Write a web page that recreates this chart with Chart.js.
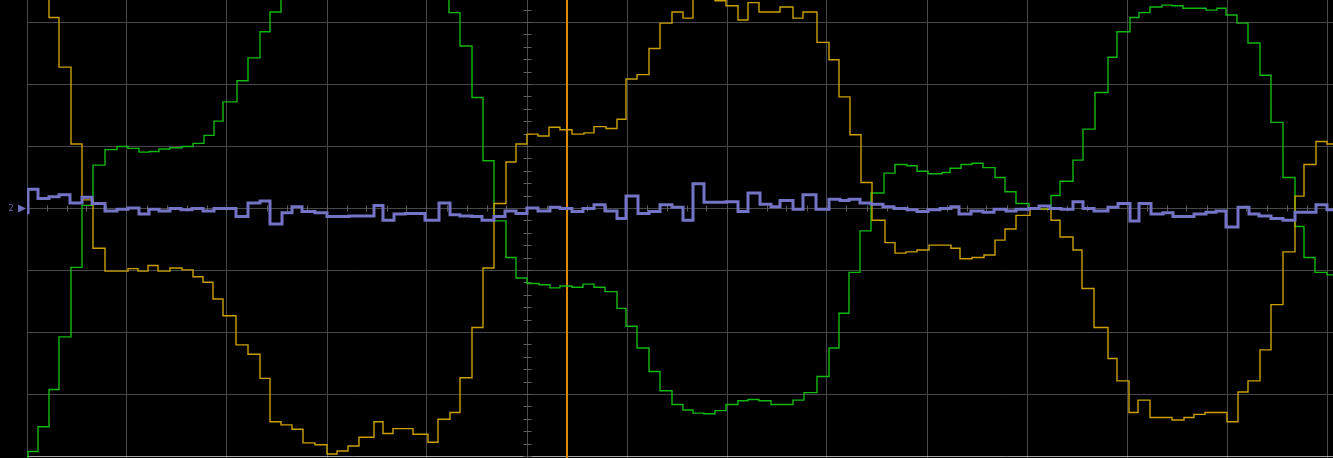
<!DOCTYPE html>
<html lang="en">
<head>
<meta charset="utf-8">
<title>Scope capture</title>
<script src="https://cdn.jsdelivr.net/npm/chart.js@4.4.1/dist/chart.umd.min.js"></script>
<style>
  html, body { margin: 0; padding: 0; background: #000; overflow: hidden; }
  #scope { display: block; }
</style>
</head>
<body>
<canvas id="scope" width="1333" height="458"></canvas>
<script>
// Traces: [time (div), level (div)] - each point holds until the next one
const ch1Trace = [
  [-5.00, 3.6], [-4.78, 3.08], [-4.68, 2.28], [-4.56, 1.04], [-4.45, 0.14], [-4.34, -0.64],
  [-4.22, -1.01], [-3.99, -0.97], [-3.89, -1.01], [-3.79, -0.92], [-3.69, -1.01], [-3.57, -0.96],
  [-3.45, -0.99], [-3.34, -1.10], [-3.24, -1.19], [-3.14, -1.46], [-3.04, -1.73], [-2.91, -2.20],
  [-2.79, -2.35], [-2.67, -2.74], [-2.57, -3.44], [-2.46, -3.49], [-2.35, -3.56], [-2.24, -3.78],
  [-2.12, -3.81], [-2.00, -3.96], [-1.90, -3.91], [-1.79, -3.83], [-1.68, -3.69], [-1.53, -3.44],
  [-1.44, -3.63], [-1.34, -3.55], [-1.14, -3.64], [-0.99, -3.77], [-0.89, -3.40], [-0.77, -3.29],
  [-0.67, -2.73], [-0.55, -1.92], [-0.44, -0.96], [-0.33, 0.08], [-0.21, 0.75], [-0.11, 1.04],
  [0.00, 1.20], [0.11, 1.17], [0.22, 1.31], [0.33, 1.27], [0.45, 1.20], [0.57, 1.22],
  [0.67, 1.32], [0.79, 1.29], [0.90, 1.44], [0.99, 2.09], [1.10, 2.16], [1.22, 2.58],
  [1.33, 2.99], [1.45, 3.17], [1.56, 3.07], [1.66, 3.6], [1.88, 3.35], [1.99, 3.27],
  [2.11, 3.04], [2.21, 3.32], [2.32, 3.17], [2.53, 3.25], [2.66, 3.07], [2.76, 3.17],
  [2.90, 2.68], [3.02, 2.40], [3.12, 1.80], [3.23, 1.19], [3.34, 0.42], [3.45, -0.19],
  [3.58, -0.55], [3.68, -0.72], [3.79, -0.70], [3.90, -0.67], [4.02, -0.59], [4.24, -0.64],
  [4.33, -0.81], [4.45, -0.79], [4.57, -0.75], [4.68, -0.51], [4.78, -0.33], [4.89, -0.11],
  [5.03, -0.01], [5.24, -0.19], [5.33, -0.46], [5.46, -0.67], [5.55, -1.29], [5.67, -1.92],
  [5.81, -2.42], [5.90, -2.78], [6.02, -3.29], [6.11, -3.09], [6.23, -3.37], [6.45, -3.41],
  [6.57, -3.37], [6.67, -3.32], [6.78, -3.29], [7.00, -3.44], [7.11, -2.96], [7.21, -2.78],
  [7.33, -2.28], [7.44, -1.55], [7.56, -0.70], [7.68, 0.20], [7.77, 0.71], [7.89, 1.08],
  [8.00, 1.04], [8.10, 1.04]
];

const ch2Trace = [
  [-5.00, -4.3], [-4.99, -3.92], [-4.89, -3.52], [-4.78, -2.92], [-4.68, -2.07], [-4.56, -0.95],
  [-4.45, 0.05], [-4.34, 0.70], [-4.22, 0.95], [-4.10, 1.00], [-3.99, 0.97], [-3.88, 0.91],
  [-3.78, 0.92], [-3.68, 0.96], [-3.57, 0.98], [-3.45, 1.00], [-3.34, 1.05], [-3.23, 1.18],
  [-3.13, 1.41], [-3.04, 1.72], [-2.90, 2.06], [-2.79, 2.43], [-2.67, 2.85], [-2.57, 3.17],
  [-2.46, 3.6], [-0.78, 3.16], [-0.67, 2.62], [-0.55, 1.79], [-0.44, 0.77], [-0.33, -0.20],
  [-0.21, -0.79], [-0.11, -1.12], [0.00, -1.21], [0.12, -1.23], [0.23, -1.28], [0.33, -1.25],
  [0.45, -1.27], [0.56, -1.22], [0.67, -1.27], [0.78, -1.34], [0.90, -1.61], [0.99, -1.90],
  [1.10, -2.25], [1.22, -2.63], [1.33, -2.94], [1.45, -3.16], [1.56, -3.25], [1.66, -3.30],
  [1.77, -3.31], [1.88, -3.26], [1.99, -3.16], [2.11, -3.10], [2.21, -3.08], [2.32, -3.10],
  [2.44, -3.16], [2.66, -3.09], [2.77, -2.97], [2.90, -2.71], [3.02, -2.25], [3.12, -1.69],
  [3.22, -1.03], [3.33, -0.36], [3.44, 0.25], [3.57, 0.57], [3.68, 0.71], [3.80, 0.69],
  [3.90, 0.60], [4.01, 0.56], [4.15, 0.58], [4.23, 0.65], [4.34, 0.71], [4.45, 0.73],
  [4.56, 0.66], [4.68, 0.50], [4.78, 0.27], [4.89, 0.08], [5.02, -0.01], [5.24, 0.21],
  [5.33, 0.44], [5.46, 0.78], [5.56, 1.28], [5.68, 1.87], [5.81, 2.44], [5.90, 2.85],
  [6.03, 3.08], [6.12, 3.16], [6.23, 3.25], [6.35, 3.28], [6.45, 3.27], [6.56, 3.23],
  [6.79, 3.20], [6.90, 3.23], [6.99, 3.12], [7.10, 2.99], [7.21, 2.67], [7.33, 2.15],
  [7.44, 1.39], [7.56, 0.50], [7.68, -0.29], [7.77, -0.79], [7.88, -1.03], [8.00, -1.07],
  [8.10, -1.07]
];

const mathTrace = [
  [-5.00, -0.07], [-4.99, 0.31], [-4.89, 0.16], [-4.78, 0.19], [-4.68, 0.22], [-4.57, 0.09],
  [-4.45, 0.18], [-4.35, 0.08], [-4.22, -0.04], [-4.10, -0.01], [-3.99, 0.01], [-3.88, -0.09],
  [-3.78, -0.01], [-3.68, -0.04], [-3.57, 0.00], [-3.46, -0.02], [-3.35, 0.00], [-3.24, -0.04],
  [-3.13, 0.00], [-2.91, -0.13], [-2.79, 0.09], [-2.67, 0.12], [-2.57, -0.25], [-2.45, -0.07],
  [-2.35, 0.03], [-2.25, -0.05], [-2.12, -0.07], [-2.00, -0.13], [-1.78, -0.12], [-1.53, 0.05],
  [-1.44, -0.19], [-1.33, -0.09], [-1.22, -0.08], [-1.02, -0.19], [-0.88, 0.09], [-0.77, -0.10],
  [-0.67, -0.12], [-0.55, -0.13], [-0.45, -0.19], [-0.33, -0.13], [-0.22, -0.04], [-0.11, -0.08],
  [0.00, 0.01], [0.11, -0.04], [0.23, 0.02], [0.33, 0.00], [0.45, -0.05], [0.56, 0.00],
  [0.67, 0.06], [0.78, -0.04], [0.90, -0.16], [0.99, 0.20], [1.11, -0.08], [1.22, -0.05],
  [1.33, 0.06], [1.45, 0.02], [1.56, -0.19], [1.66, 0.40], [1.77, 0.10], [1.99, 0.11],
  [2.11, -0.05], [2.21, 0.25], [2.33, 0.07], [2.44, 0.03], [2.53, 0.13], [2.66, -0.01],
  [2.76, 0.22], [2.89, -0.01], [3.02, 0.15], [3.13, 0.13], [3.22, 0.15], [3.33, 0.09],
  [3.44, 0.07], [3.56, 0.03], [3.67, 0.00], [3.80, -0.02], [3.90, -0.05], [4.01, -0.02],
  [4.13, 0.00], [4.24, 0.03], [4.32, -0.09], [4.44, -0.04], [4.56, -0.06], [4.67, -0.01],
  [4.79, -0.04], [4.89, -0.01], [5.02, 0.00], [5.12, 0.04], [5.23, 0.00], [5.34, -0.01],
  [5.46, 0.11], [5.56, 0.00], [5.67, -0.04], [5.81, 0.02], [5.91, 0.08], [6.03, -0.20],
  [6.12, 0.08], [6.24, -0.09], [6.36, -0.07], [6.46, -0.13], [6.67, -0.09], [6.79, -0.06],
  [6.89, -0.04], [6.99, -0.30], [7.11, 0.02], [7.22, -0.09], [7.32, -0.12], [7.44, -0.16],
  [7.56, -0.19], [7.68, -0.06], [7.89, 0.06], [8.00, -0.02], [8.10, -0.02]
];

// Graticule divisions
const timeTicks = [-5, -4, -3, -2, -1, 0, 1, 2, 3, 4, 5, 6, 7, 8];
const levelTicks = [-4, -3, -2, -1, 0, 1, 2, 3];
const timeRange = [-5.0, 8.06];
const levelRange = [-4.024, 3.363];
const cursorTime = 0.40;
const refLabel = "2";

function toPoints(trace) {
  return trace.map(([t, v]) => ({ x: t, y: v }));
}

function alignPx(p) {
  return Math.round(p - 0.5) + 0.5;
}

// Center axis minor ticks, cursor line, reference marker
const graticulePlugin = {
  id: "graticule",
  beforeDatasetsDraw(chart) {
    const { ctx, chartArea, scales } = chart;
    const x0 = alignPx(scales.x.getPixelForValue(0));
    const y0 = alignPx(scales.y.getPixelForValue(0));

    ctx.save();
    ctx.strokeStyle = "#5e5e5e";
    ctx.lineWidth = 1;
    ctx.beginPath();
    for (let k = timeTicks[0] * 5; k <= timeRange[1] * 5; k++) {
      const px = alignPx(scales.x.getPixelForValue(k / 5));
      ctx.moveTo(px, y0 - 3);
      ctx.lineTo(px, y0 + 3);
    }
    for (let k = levelTicks[0] * 5; k <= levelRange[1] * 5; k++) {
      const py = alignPx(scales.y.getPixelForValue(k / 5));
      ctx.moveTo(x0 - 4, py);
      ctx.lineTo(x0 + 4, py);
    }
    ctx.stroke();

    // time cursor
    const cx = scales.x.getPixelForValue(cursorTime);
    ctx.strokeStyle = "#d98a0c";
    ctx.lineWidth = 2;
    ctx.beginPath();
    ctx.moveTo(cx, chartArea.top);
    ctx.lineTo(cx, chartArea.bottom);
    ctx.stroke();
    ctx.restore();
  },
  afterDatasetsDraw(chart) {
    const { ctx, chartArea, scales } = chart;
    const y0 = scales.y.getPixelForValue(0);
    const left = chartArea.left;

    ctx.save();
    ctx.fillStyle = "#7070c0";
    ctx.beginPath();
    ctx.moveTo(left - 9, y0 - 4);
    ctx.lineTo(left - 1, y0);
    ctx.lineTo(left - 9, y0 + 4);
    ctx.closePath();
    ctx.fill();

    ctx.fillStyle = "#6464a0";
    ctx.font = "9px 'DejaVu Sans Mono'";
    ctx.textAlign = "center";
    ctx.textBaseline = "middle";
    ctx.fillText(refLabel, left - 16, y0);
    ctx.restore();
  }
};

function gridColor(ctx) {
  if (ctx.tick && ctx.tick.value === levelTicks[0]) {
    return "#a8a8a8";
  }
  return "#484848";
}

function initializeScope() {
  const canvas = document.getElementById("scope");

  new Chart(canvas, {
    type: "line",
    data: {
      datasets: [
        {
          label: "Math",
          data: toPoints(mathTrace),
          borderColor: "#7474c6",
          borderWidth: 3,
          stepped: true,
          pointRadius: 0,
        },
        {
          label: "CH1",
          data: toPoints(ch1Trace),
          borderColor: "#c9a000",
          borderWidth: 1.4,
          stepped: true,
          pointRadius: 0,
        },
        {
          label: "CH2",
          data: toPoints(ch2Trace),
          borderColor: "#12b812",
          borderWidth: 1.4,
          stepped: true,
          pointRadius: 0,
        },
      ],
    },
    options: {
      responsive: false,
      animation: false,
      layout: {
        padding: { left: 27, right: 0, top: 0, bottom: 0 },
      },
      plugins: {
        legend: { display: false },
        tooltip: { enabled: false },
      },
      scales: {
        x: {
          type: "linear",
          min: timeRange[0],
          max: timeRange[1],
          afterBuildTicks: (scale) => {
            scale.ticks = timeTicks.map((v) => ({ value: v }));
          },
          ticks: { display: false },
          border: { display: false },
          grid: { color: "#484848", lineWidth: 1, drawTicks: false },
        },
        y: {
          type: "linear",
          min: levelRange[0],
          max: levelRange[1],
          afterBuildTicks: (scale) => {
            scale.ticks = levelTicks.map((v) => ({ value: v }));
          },
          ticks: { display: false },
          border: { display: false },
          grid: { color: gridColor, lineWidth: 1, drawTicks: false },
        },
      },
    },
    plugins: [graticulePlugin],
  });
}

document.addEventListener("DOMContentLoaded", function () {
  initializeScope();
});
</script>
</body>
</html>
